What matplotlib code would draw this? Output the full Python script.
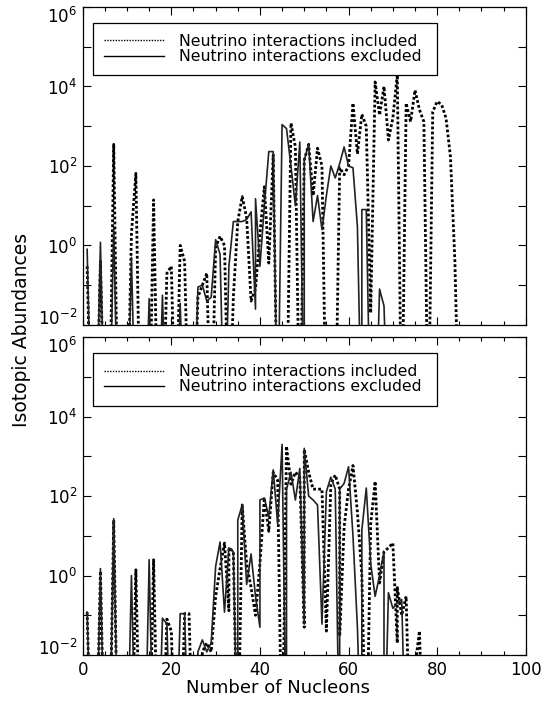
import numpy as np
import matplotlib
matplotlib.use('Agg')
import matplotlib.pyplot as plt
from matplotlib.lines import Line2D

# DATA (abundance per mass number, lo = below plot floor)
lo = 1e-5

# top panel, neutrino interactions included (dotted)
top_incl_x = list(range(1, 86))
top_incl_y = [0.3, lo, lo, 0.4, lo, lo, 350, lo, lo, lo,
              2, 65, lo, lo, lo, 14, lo, lo, 0.2, 0.3,
              lo, 1.0, 0.4, lo, lo, 0.05, 0.1, 0.2, lo, 0.9,
              1.7, 1.0, lo, 0.05, 4, 17, 5, 0.04, 0.08, 2,
              30, 0.36, 190, lo, lo, lo, 1200, 300, lo, 140,
              350, 18, 280, 100, lo, lo, lo, 90, 60, 100,
              3800, 200, 2000, 1000, 0.02, 13000, 1900, 10000, 450, 1600,
              20000, lo, 3800, 1300, 8100, 2600, 1300, lo, 2300, 4200,
              3500, 1600, 170, 0.4, lo]

# top panel, neutrino interactions excluded (solid)
top_excl_x = [1, 2, 3, 4, 5, 6, 7, 8, 9, 10,
              11, 12, 13, 14, 15, 16, 17, 18, 19, 20,
              21, 22, 23, 24, 25, 26, 27, 28, 29, 30,
              31, 32, 33, 34, 35, 36, 37, 38, 39, 39,
              40, 41, 42, 43, 44, 45, 46, 47, 48, 49,
              50, 50, 51, 52, 53, 54, 55, 56, 57, 58,
              59, 60, 61, 62, 63, 63, 64, 65, 66, 67,
              68, 69]
top_excl_y = [0.8, lo, lo, 1.2, lo, lo, 3, lo, lo, lo,
              0.5, lo, lo, lo, 0.046, lo, lo, 0.056, lo, lo,
              lo, 0.035, lo, lo, lo, 0.09, 0.1, 0.04, 0.05, 1.4,
              0.6, lo, 0.3, 4, 4, 4, 4.5, 7, 0.025, 15,
              0.3, 10, 230, 230, lo, 1100, 870, 100, 10, 400,
              lo, 140, 350, 4, 18, 2.5, 18, 100, 50, 115,
              300, 100, 90, 3, lo, 8, 8, lo, lo, 0.08,
              0.03, lo]

# bottom panel, included (dotted)
bot_incl_x = [1, 2, 3, 4, 5, 6, 7, 8, 9, 10,
              11, 12, 13, 14, 15, 16, 17, 18, 19, 20,
              21, 22, 23, 24, 25, 26, 27, 28, 29, 30,
              31, 32, 33, 33, 34, 35, 36, 37, 38, 39,
              40, 41, 42, 43, 44, 45, 46, 47, 48, 49,
              50, 50, 51, 52, 53, 54, 55, 56, 57, 58,
              58, 59, 60, 61, 62, 63, 64, 65, 66, 67,
              68, 69, 70, 71, 71, 72, 73, 74, 75, 76,
              77]
bot_incl_y = [0.12, lo, lo, 1.3, lo, lo, 25, lo, lo, lo,
              lo, 1.4, lo, lo, lo, 2.5, lo, lo, 0.08, 0.04,
              lo, lo, 0.11, 0.11, lo, lo, 0.012, 0.02, 0.012, 0.3,
              1.5, 6.6, 0.13, 5, 4, lo, 60, 2, 0.5, 0.1,
              2, 90, 13, 400, 250, lo, 1800, 200, 400, 300,
              0.05, 1500, 400, 150, 150, 150, 0.04, 200, 340, 150,
              0.03, 17, 150, 590, 40, 1, lo, 20, 235, 0.65,
              4, 5, 6.6, 0.02, 0.5, 0.1, 0.3, lo, 0.005, 0.04,
              lo]

# bottom panel, excluded (solid)
bot_excl_x = [1, 2, 3, 4, 5, 6, 7, 8, 9, 10,
              11, 12, 13, 14, 15, 16, 17, 18, 19, 20,
              21, 22, 23, 24, 25, 26, 27, 28, 29, 30,
              31, 32, 33, 34, 35, 35, 36, 37, 38, 39,
              40, 40, 41, 42, 43, 44, 45, 46, 46, 47,
              48, 49, 50, 50, 51, 52, 53, 54, 55, 56,
              57, 58, 58, 59, 60, 61, 62, 63, 63, 64,
              65, 66, 67, 68, 68, 69, 70, 71, 72, 73]
bot_excl_y = [0.12, lo, lo, 1.5, lo, lo, 27, lo, lo, lo,
              1.0, lo, lo, lo, 2.5, lo, lo, 0.085, 0.06, lo,
              lo, 0.11, 0.11, lo, lo, 0.012, 0.024, 0.012, 0.02, 1.7,
              7, 0.12, 5, 4, lo, 25, 60, 0.6, 3.5, 0.3,
              0.05, 80, 90, 30, 460, 20, 2000, lo, 150, 400,
              80, 500, 0.06, 1600, 100, 80, 60, 0.06, 130, 300,
              150, lo, 150, 210, 550, 10, 0.05, lo, 14, 160,
              2, 0.3, 1, 4, lo, 0.37, 0.15, 0.2, 0.25, lo]

labels = ['Neutrino interactions included', 'Neutrino interactions excluded']
ytick_vals = [1e-2, 1e-1, 1e0, 1e1, 1e2, 1e3, 1e4, 1e5, 1e6]
ytick_labels = ['$10^{-2}$', '', '$10^{0}$', '', '$10^{2}$', '', '$10^{4}$', '', '$10^{6}$']

# PLOTTING
fig = plt.figure(figsize=(5.47, 7.04), dpi=100)
ax_top = fig.add_axes([0.1512, 0.5384, 0.810, 0.4517])
ax_bot = fig.add_axes([0.1512, 0.0696, 0.810, 0.4513])

panels = [(ax_top, top_incl_x, top_incl_y, top_excl_x, top_excl_y),
          (ax_bot, bot_incl_x, bot_incl_y, bot_excl_x, bot_excl_y)]

for ax, xi, yi, xe, ye in panels:
    ax.plot(xi, yi, color='black', lw=2.0, linestyle=(0, (1, 0.8)))
    ax.plot(xe, ye, color='#222222', lw=1.2, linestyle='-')
    ax.set_yscale('log')
    ax.set_xlim(0, 100)
    ax.set_ylim(1e-2, 1e6)
    ax.set_yticks(ytick_vals)
    ax.set_yticklabels(ytick_labels)
    ax.yaxis.set_minor_locator(matplotlib.ticker.NullLocator())
    ax.set_xticks(np.arange(0, 101, 20))
    ax.set_xticks(np.arange(0, 101, 5), minor=True)
    ax.tick_params(which='both', direction='in', top=True, right=True,
                   labelsize=12, width=0.8, color='black')
    ax.tick_params(which='major', length=6)
    ax.tick_params(which='minor', length=3)
    ax.tick_params(axis='y', pad=4)
    ax.tick_params(axis='x', pad=4)
    for sp in ax.spines.values():
        sp.set_linewidth(0.9)

    # end labels sit inside the axis range like the original
    ylabs = ax.get_yticklabels()
    ylabs[0].set_va('baseline')
    ylabs[-1].set_va('top')

    handles = [Line2D([], [], color='black', lw=1.0, linestyle=(0, (1, 1))),
               Line2D([], [], color='black', lw=1.0, linestyle='-')]
    leg = ax.legend(handles, labels, loc='upper left',
                    bbox_to_anchor=(0.0226, 0.781, 0.776, 0.170), mode='expand',
                    fontsize=11.3, frameon=True, fancybox=False, framealpha=1,
                    edgecolor='black', handlelength=3.8, handletextpad=1.0,
                    labelspacing=0.02, borderpad=0.72, borderaxespad=0)
    leg.get_frame().set_linewidth(0.9)

ax_top.tick_params(axis='x', labelbottom=False)

fig.text(0.039, 0.531, 'Isotopic Abundances', rotation=90, ha='center', va='center', fontsize=13.5)
fig.text(0.509, 0.0227, 'Number of Nucleons', ha='center', va='center', fontsize=13)

plt.savefig('out.png', dpi=100)
